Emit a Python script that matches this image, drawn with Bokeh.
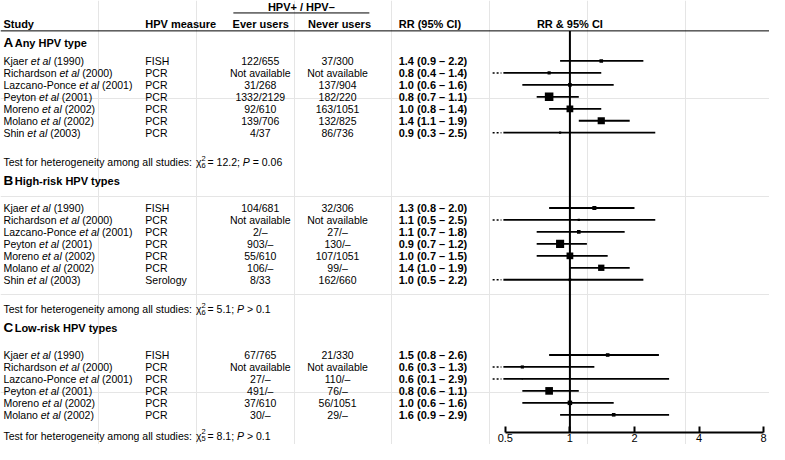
import math
from bokeh.plotting import figure
from bokeh.models import ColumnDataSource, Range1d, LogScale, LogAxis, FixedTicker
from bokeh.core.properties import value
from bokeh.embed import file_html
from bokeh.resources import INLINE

# ---------------- data ----------------
a_study = ["Kjaer", "Richardson", "Lazcano-Ponce", "Peyton", "Moreno", "Molano", "Shin"]
a_year = ["1990", "2000", "2001", "2001", "2002", "2002", "2003"]
a_measure = ["FISH", "PCR", "PCR", "PCR", "PCR", "PCR", "PCR"]
a_ever = ["122/655", "Not available", "31/268", "1332/2129", "92/610", "139/706", "4/37"]
a_never = ["37/300", "Not available", "137/904", "182/220", "163/1051", "132/825", "86/736"]
a_rr = [1.4, 0.8, 1.0, 0.8, 1.0, 1.4, 0.9]
a_lo = [0.9, 0.4, 0.6, 0.7, 0.8, 1.1, 0.3]
a_hi = [2.2, 1.4, 1.6, 1.1, 1.4, 1.9, 2.5]
a_weight = [4.0, 3.5, 4.0, 9.5, 7.5, 8.0, 2.5]
a_het = ("6", "12.2", "= 0.06")

b_study = ["Kjaer", "Richardson", "Lazcano-Ponce", "Peyton", "Moreno", "Molano", "Shin"]
b_year = ["1990", "2000", "2001", "2001", "2002", "2002", "2003"]
b_measure = ["FISH", "PCR", "PCR", "PCR", "PCR", "PCR", "Serology"]
b_ever = ["104/681", "Not available", "2/\u2013", "903/\u2013", "55/610", "106/\u2013", "8/33"]
b_never = ["32/306", "Not available", "27/\u2013", "130/\u2013", "107/1051", "99/\u2013", "162/660"]
b_rr = [1.3, 1.1, 1.1, 0.9, 1.0, 1.4, 1.0]
b_lo = [0.8, 0.5, 0.7, 0.7, 0.7, 1.0, 0.5]
b_hi = [2.0, 2.5, 1.8, 1.2, 1.5, 1.9, 2.2]
b_weight = [4.5, 2.5, 4.0, 9.0, 7.5, 7.0, 3.0]
b_het = ("6", "5.1", "> 0.1")

c_study = ["Kjaer", "Richardson", "Lazcano-Ponce", "Peyton", "Moreno", "Molano"]
c_year = ["1990", "2000", "2001", "2001", "2002", "2002"]
c_measure = ["FISH", "PCR", "PCR", "PCR", "PCR", "PCR"]
c_ever = ["67/765", "Not available", "27/\u2013", "491/\u2013", "37/610", "30/\u2013"]
c_never = ["21/330", "Not available", "110/\u2013", "76/\u2013", "56/1051", "29/\u2013"]
c_rr = [1.5, 0.6, 0.6, 0.8, 1.0, 1.6]
c_lo = [0.8, 0.3, 0.1, 0.6, 0.6, 0.9]
c_hi = [2.6, 1.3, 2.9, 1.1, 1.6, 2.9]
c_weight = [4.0, 3.5, 1.5, 8.5, 5.0, 4.0]
c_het = ("5", "8.1", "> 0.1")

ticks = [0.5, 1, 2, 4, 8]
tick_labels = ["0.5", "1", "2", "4", "8"]

# ---------------- layout / style ----------------
FONT = value("Liberation Sans")
W, H = 769, 444
X_SPAN, Y_SPAN = 786.0, 453.0      # layout units mapped onto the canvas
SX = W / X_SPAN
PX_PER_DOUBLING = 66.0
X_ONE = 582.0          # layout x of RR = 1
AXIS_Y = 441
ROW = 12.2

W_REG = {' ': 278, '(': 333, ')': 333, '-': 333, '.': 278, '/': 278, ':': 278, ';': 278,
         '=': 584, '>': 584, '\u2013': 556, '\u03c7': 500}
for ch in "0123456789":
    W_REG[ch] = 556
W_REG.update(dict(zip("ABCDEFGHIJKLMNOPQRSTUVWXYZ",
                      [667, 667, 722, 722, 667, 611, 778, 722, 278, 500, 667, 556, 833, 722, 778, 667,
                       778, 722, 667, 611, 722, 667, 944, 667, 667, 611])))
W_REG.update(dict(zip("abcdefghijklmnopqrstuvwxyz",
                      [556, 556, 500, 556, 556, 278, 556, 556, 222, 222, 500, 222, 833, 556, 556, 556,
                       556, 333, 500, 278, 556, 500, 722, 500, 500, 500])))


def tw(s, size):
    """text width in layout units"""
    return sum(W_REG.get(c, 556) for c in s) * size / 1000.0 / SX


def pos(lx):
    """layout x -> RR value on the log range"""
    return 2 ** ((lx - X_ONE) / PX_PER_DOUBLING)


p = figure(width=W, height=H, output_backend="svg", toolbar_location=None,
           x_range=Range1d(0, X_SPAN), y_range=Range1d(Y_SPAN, 0),
           x_axis_location=None, y_axis_location=None, min_border=0)
p.outline_line_color = None
p.background_fill_color = "white"
p.border_fill_color = "white"
p.extra_x_ranges = {"rr": Range1d(pos(0), pos(X_SPAN))}
p.extra_x_scales = {"rr": LogScale()}

TXT = dict(text_font=FONT, text_color="black", text_baseline="middle")


def put(x, y, text, size, align="left", style="normal", **kw):
    n = len(text)
    x = list(x) * n if len(x) == 1 else list(x)
    y = list(y) * n if len(y) == 1 else list(y)
    p.text(x=x, y=y, text=text, text_font_size=f"{size}px", text_align=align,
           text_font_style=style, **TXT, **kw)


# headers
put([307.5], [6.5], ["HPV+ / HPV\u2013"], 11, "center", "bold")
p.segment(x0=[238], x1=[377], y0=[12.7], y1=[12.7], line_color="black", line_width=1)
put([3, 148], [24], ["Study", "HPV measure"], 11, "left", "bold")
put([266, 346.5], [24], ["Ever users", "Never users"], 11, "center", "bold")
put([407], [24], ["RR (95% CI)"], 11, "left", "bold")
put([1], [24], ["RR & 95% CI"], 11, "center", "bold", x_range_name="rr")
p.segment(x0=[0], x1=[X_SPAN], y0=[31], y1=[31], line_color="black", line_width=1)

# reference line at RR = 1
p.segment(x0=[1], x1=[1], y0=[31], y1=[AXIS_Y], x_range_name="rr",
          line_color="black", line_width=2)

CLIP = pos(514)
DOT0, DOT1 = pos(503), pos(512)


def section(letter, title, study, year, measure, ever, never, rr, lo, hi, weight, het,
            y_head, y0, y_test):
    n = len(study)
    ys = [y0 + i * ROW for i in range(n)]
    # section title
    put([3], [y_head], [letter], 13.5, "left", "bold")
    put([3 + (0.722 * 13.5 + 1.5) / SX], [y_head + 0.5], [title], 11, "left", "bold")
    # study names with italic "et al"
    x_etal = [3 + tw(s + " ", 10.5) for s in study]
    x_year = [x + tw("et al ", 10.5) for x in x_etal]
    put([3] * n, ys, study, 10.5)
    put(x_etal, ys, ["et al"] * n, 10.5, style="italic")
    put(x_year, ys, [f"({y})" for y in year], 10.5)
    put([148] * n, ys, measure, 10.5)
    put([265.5] * n, ys, ever, 10.5, "center")
    put([344.5] * n, ys, never, 10.5, "center")
    put([407] * n, ys, [f"{r:.1f} ({l:.1f} \u2013 {h:.1f})" for r, l, h in zip(rr, lo, hi)],
        11, "left", "bold")
    # CI lines
    src = ColumnDataSource(dict(y=ys, rr=rr, hi=hi, x0=[l if l > 0.5 else CLIP for l in lo],
                                size=[0.9 * w for w in weight]))
    p.segment(x0="x0", x1="hi", y0="y", y1="y", source=src, x_range_name="rr",
              line_color="black", line_width=1.8)
    dy = [y for y, l in zip(ys, lo) if l <= 0.5]
    if dy:
        p.segment(x0=[DOT0] * len(dy), x1=[DOT1] * len(dy), y0=dy, y1=dy, x_range_name="rr",
                  line_color="black", line_width=1.6, line_dash="2 2")
    p.scatter(x="rr", y="y", size="size", marker="square", source=src,
              x_range_name="rr", fill_color="black", line_color=None)
    # heterogeneity test
    df, chi, pv = het
    pre = "Test for heterogeneity among all studies:"
    x1 = 3 + tw(pre + " ", 10.5)
    put([3], [y_test], [pre], 10.5)
    put([x1], [y_test], ["\u03c7"], 10.5)
    xs = x1 + tw("\u03c7", 10.5) + 0.3
    put([xs], [y_test - 4.3], ["2"], 7.5)
    put([xs], [y_test + 3.2], [df], 7.5)
    xm = xs + tw("0", 7.5) + tw(" ", 10.5) * 0.6
    mid = f"= {chi};"
    put([xm], [y_test], [mid], 10.5)
    xp = xm + tw(mid + " ", 10.5)
    put([xp], [y_test], ["P"], 10.5, style="italic")
    put([xp + tw("P ", 10.5)], [y_test], [pv], 10.5)


section("A", "Any HPV type", a_study, a_year, a_measure, a_ever, a_never, a_rr, a_lo, a_hi,
        a_weight, a_het, 43, 61.7, 165)
section("B", "High-risk HPV types", b_study, b_year, b_measure, b_ever, b_never, b_rr, b_lo,
        b_hi, b_weight, b_het, 184, 211.7, 315)
section("C", "Low-risk HPV types", c_study, c_year, c_measure, c_ever, c_never, c_rr, c_lo,
        c_hi, c_weight, c_het, 334, 361.7, 444)

# log axis
ax = LogAxis(x_range_name="rr", ticker=FixedTicker(ticks=ticks), bounds=(ticks[0], ticks[-1]),
             fixed_location=AXIS_Y)
ax.major_label_overrides = {t: l for t, l in zip(ticks, tick_labels)}
ax.axis_line_width = 2
ax.axis_line_color = "black"
ax.major_tick_line_width = 2
ax.major_tick_line_color = "black"
ax.major_tick_in = 6
ax.major_tick_out = 0
ax.minor_tick_line_color = None
ax.major_label_standoff = 1
ax.major_label_text_font = "Liberation Sans"
ax.major_label_text_font_size = "11px"
ax.major_label_text_color = "black"
p.add_layout(ax, "below")

open("out.html", "w").write(file_html(p, INLINE))
